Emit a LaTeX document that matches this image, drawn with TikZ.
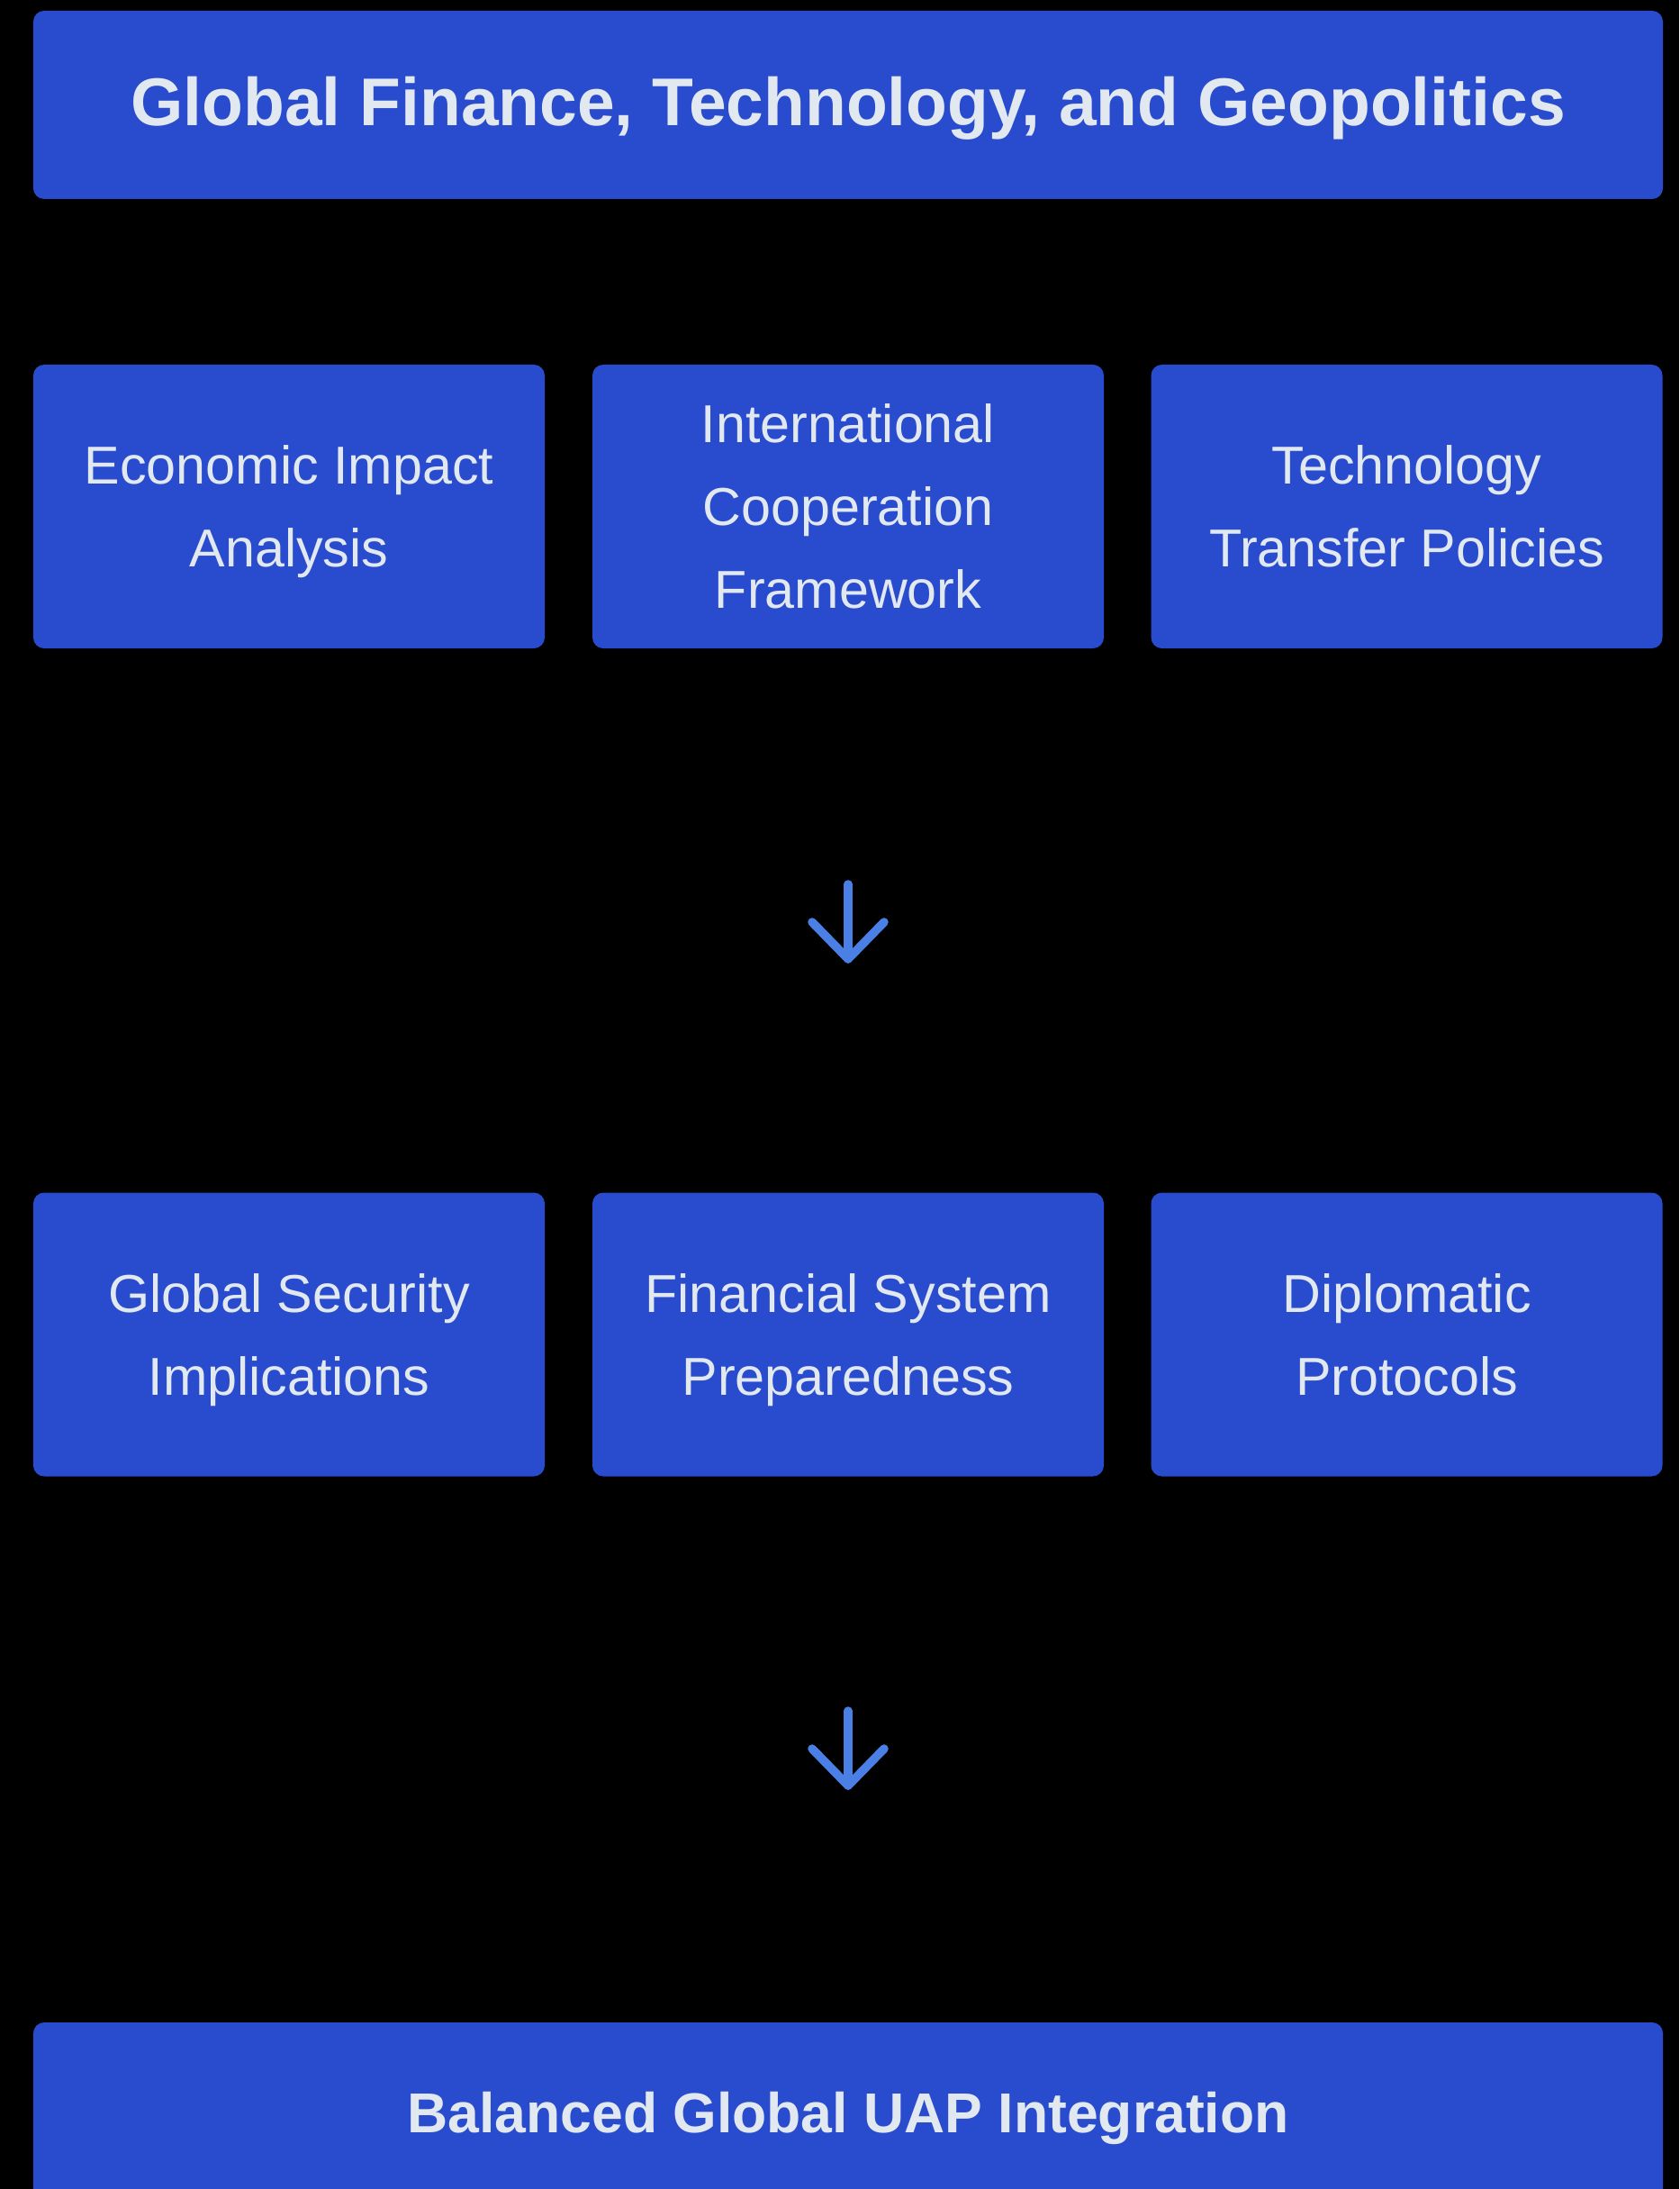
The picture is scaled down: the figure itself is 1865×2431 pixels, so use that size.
\documentclass[tikz,border=0pt]{standalone}
\usepackage{fontspec}
\setmainfont{Liberation Sans}
\definecolor{boxblue}{HTML}{284CCD}
\definecolor{txt}{HTML}{E2E8F0}
\definecolor{arrowblue}{HTML}{4A7FE6}
\begin{document}
\begin{tikzpicture}[x=0.4pt,y=-0.4pt,
  card/.style={fill=boxblue, draw=none, rounded corners=4.8pt, text=txt,
    align=center, inner sep=0pt, minimum width=227.2pt, minimum height=126pt,
    text depth=0pt,
    font=\fontsize{23.7}{36.8}\selectfont},
  banner/.style={fill=boxblue, draw=none, rounded corners=4.8pt, text=txt,
    align=center, inner sep=0pt, minimum width=724pt, minimum height=83.6pt,
    font=\bfseries},
  flow/.style={draw=arrowblue, line width=3.8pt, line cap=round, line join=round}]
\fill[black] (0,0) rectangle (1865,2431);
\useasboundingbox (0,0) rectangle (1865,2431);
\begin{scope}
\clip (0,0) rectangle (1865,2431);
\node[banner, text height=25pt, font=\fontsize{30}{36}\selectfont\bfseries] (title) at (942,116.5) {Global Finance, Technology, and Geopolitics};
\node[card] (econ) at (321,562.5) {Economic Impact\\Analysis};
\node[card] (coop) at (942,562.5) {International\\Cooperation\\Framework};
\node[card] (tech) at (1562.5,562.5) {Technology\\Transfer Policies};
\node[card] (sec) at (321,1482) {Global Security\\Implications};
\node[card] (fin) at (942,1482) {Financial System\\Preparedness};
\node[card] (dip) at (1562.5,1482) {Diplomatic\\Protocols};
\node[banner, text height=19.6pt, font=\fontsize{25}{30}\selectfont\bfseries] (result) at (942,2350.5) {Balanced Global UAP Integration};
\end{scope}
% arrow 1
\coordinate (a1s) at (942,982);
\coordinate (a1t) at (942,1065);
\coordinate (a1l) at (902,1024);
\coordinate (a1r) at (982,1024);
\draw[flow] (a1s) -- (a1t);
\draw[flow] (a1l) -- (a1t) -- (a1r);
% arrow 2
\coordinate (a2s) at (942,1900);
\coordinate (a2t) at (942,1983);
\coordinate (a2l) at (902,1942);
\coordinate (a2r) at (982,1942);
\draw[flow] (a2s) -- (a2t);
\draw[flow] (a2l) -- (a2t) -- (a2r);
\end{tikzpicture}
\end{document}
